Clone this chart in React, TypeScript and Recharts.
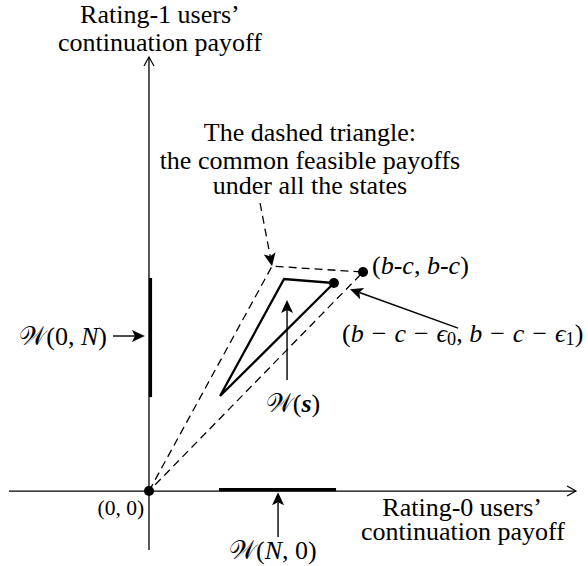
import { ScatterChart, Scatter, XAxis, YAxis } from "recharts";

// payoff units: one unit = (b - c) on both axes
const xDomain = [-0.696, 2.051];
const yDomain = [-0.342, 2.242];

const xAxisLine = [{ x: -0.654, y: 0 }, { x: 1.995, y: 0 }];
const yAxisLine = [{ x: 0, y: -0.269 }, { x: 0, y: 1.982 }];

const dashedTriangle = [{ x: 0, y: 0 }, { x: 0.575, y: 1.027 }, { x: 1, y: 1 }, { x: 0, y: 0 }];
const innerTriangle = [{ x: 0.332, y: 0.434 }, { x: 0.631, y: 0.968 }, { x: 0.864, y: 0.95 }, { x: 0.332, y: 0.434 }];

const segW0N = [{ x: 0.007, y: 0.429 }, { x: 0.007, y: 0.973 }];
const segWN0 = [{ x: 0.327, y: 0.007 }, { x: 0.874, y: 0.007 }];

const arrowW0N = [{ x: -0.168, y: 0.708 }, { x: -0.019, y: 0.708 }];
const arrowWs = [{ x: 0.645, y: 0.507 }, { x: 0.645, y: 0.872 }];
const arrowWN0 = [{ x: 0.603, y: -0.21 }, { x: 0.603, y: -0.005 }];
const arrowEps = [{ x: 1.444, y: 0.744 }, { x: 0.939, y: 0.922 }];
const arrowNote = [{ x: 0.519, y: 1.315 }, { x: 0.575, y: 1.027 }];

const dots = [{ x: 0, y: 0 }, { x: 1, y: 1 }, { x: 0.864, y: 0.95 }];

const labels = [
  { x: 0.051, y: 2.174, text: "Rating-1 users’", anchor: "middle", kind: "text" },
  { x: 0.051, y: 2.046, text: "continuation payoff", anchor: "middle", kind: "text" },
  { x: 0.752, y: 1.635, text: "The dashed triangle:", anchor: "middle", kind: "text" },
  { x: 0.752, y: 1.511, text: "the common feasible payoffs", anchor: "middle", kind: "text" },
  { x: 0.752, y: 1.397, text: "under all the states", anchor: "middle", kind: "text" },
  { x: 1.042, y: 1.032, text: "(b-c, b-c)", anchor: "start", kind: "math" },
  { x: 0.902, y: 0.721, text: "(b − c − ϵ0, b − c − ϵ1)", anchor: "start", kind: "math" },
  { x: 0.673, y: 0.402, text: "𝒲(s)", anchor: "middle", kind: "math" },
  { x: -0.196, y: 0.708, text: "𝒲(0, N)", anchor: "end", kind: "math" },
  { x: 0.579, y: -0.269, text: "𝒲(N, 0)", anchor: "middle", kind: "math" },
  { x: -0.023, y: -0.078, text: "(0, 0)", anchor: "end", kind: "small" },
  { x: 1.463, y: -0.073, text: "Rating-0 users’", anchor: "middle", kind: "text" },
  { x: 1.467, y: -0.183, text: "continuation payoff", anchor: "middle", kind: "text" },
];

const FONT = "Liberation Serif, Tinos, Times New Roman, DejaVu Serif, serif";

type Pt = { x: number; y: number };

const makeLine = (width: number, dash?: string, head?: "filled" | "open") => (props: any) => {
  const pts: Pt[] = (props.points || []).slice();
  if (pts.length < 2) return <g />;
  let headEl = null;
  if (head) {
    const a = pts[pts.length - 2];
    const b = pts[pts.length - 1];
    const ang = Math.atan2(b.y - a.y, b.x - a.x);
    const c = Math.cos(ang), s = Math.sin(ang);
    if (head === "filled") {
      const len = 13, hw = 6;
      const bx = b.x - len * c, by = b.y - len * s;
      const nx = bx + 3 * c, ny = by + 3 * s;
      headEl = (
        <polygon
          points={`${b.x},${b.y} ${bx - s * hw},${by + c * hw} ${nx},${ny} ${bx + s * hw},${by - c * hw}`}
          fill="#000"
        />
      );
      pts[pts.length - 1] = { x: nx, y: ny };
    } else {
      const len = 9, hw = 5;
      const bx = b.x - len * c, by = b.y - len * s;
      headEl = (
        <polyline
          points={`${bx - s * hw},${by + c * hw} ${b.x},${b.y} ${bx + s * hw},${by - c * hw}`}
          fill="none"
          stroke="#000"
          strokeWidth={1.2}
        />
      );
    }
  }
  const d = pts.map((p, i) => `${i ? "L" : "M"}${p.x},${p.y}`).join(" ");
  return (
    <g>
      <path d={d} fill="none" stroke="#000" strokeWidth={width} strokeDasharray={dash} strokeLinejoin="miter" />
      {headEl}
    </g>
  );
};

const noPoint = () => <g />;
const dotShape = (p: any) => <circle cx={p.cx} cy={p.cy} r={5} fill="#000" />;

function mathSpans(text: string) {
  const chars = Array.from(text);
  const out: any[] = [];
  let sub = false;
  let pad = false;
  chars.forEach((ch, i) => {
    const prev = chars[i - 1];
    if (/[0-9]/.test(ch) && prev === "ϵ") {
      out.push(<tspan key={i} fontSize="0.7em" dy={6}>{ch}</tspan>);
      sub = true;
      return;
    }
    const dy = sub ? -6 : undefined;
    sub = false;
    let dx: number | undefined = pad ? 1.5 : undefined;
    pad = false;
    if (ch === "−") {
      dx = 1.5;
      pad = true;
    }
    if (ch === "s") {
      out.push(<tspan key={i} dx={dx} dy={dy} fontStyle="italic" fontWeight="bold">{ch}</tspan>);
    } else if (/[A-Za-zϵ]/.test(ch)) {
      out.push(<tspan key={i} dx={dx} dy={dy} fontStyle="italic">{ch}</tspan>);
    } else {
      out.push(<tspan key={i} dx={dx} dy={dy}>{ch}</tspan>);
    }
  });
  return out;
}

const labelShape = (p: any) => {
  const { cx, cy, payload } = p;
  const size = payload.kind === "small" ? 21.5 : 26;
  return (
    <text
      x={cx}
      y={cy}
      textAnchor={payload.anchor}
      dominantBaseline="central"
      style={{ fontFamily: FONT, fontSize: size }}
      fill="#000"
    >
      {payload.kind === "math" ? mathSpans(payload.text) : payload.text}
    </text>
  );
};

export default function App() {
  return (
    <div style={{ position: "absolute", left: 0, top: 0, background: "#fff" }}>
      <ScatterChart width={588} height={566} margin={{ top: 0, right: 0, bottom: 0, left: 0 }}>
        <XAxis type="number" dataKey="x" domain={xDomain} allowDataOverflow hide />
        <YAxis type="number" dataKey="y" domain={yDomain} allowDataOverflow hide />
        <Scatter data={xAxisLine} line={makeLine(1.3, undefined, "open")} shape={noPoint} isAnimationActive={false} />
        <Scatter data={yAxisLine} line={makeLine(1.3, undefined, "open")} shape={noPoint} isAnimationActive={false} />
        <Scatter data={segW0N} line={makeLine(3.2)} shape={noPoint} isAnimationActive={false} />
        <Scatter data={segWN0} line={makeLine(3.2)} shape={noPoint} isAnimationActive={false} />
        <Scatter data={dashedTriangle} line={makeLine(1.3, "8 5")} shape={noPoint} isAnimationActive={false} />
        <Scatter data={innerTriangle} line={makeLine(2.3)} shape={noPoint} isAnimationActive={false} />
        <Scatter data={arrowNote} line={makeLine(1.3, "8 5", "filled")} shape={noPoint} isAnimationActive={false} />
        <Scatter data={arrowW0N} line={makeLine(1.4, undefined, "filled")} shape={noPoint} isAnimationActive={false} />
        <Scatter data={arrowWs} line={makeLine(1.4, undefined, "filled")} shape={noPoint} isAnimationActive={false} />
        <Scatter data={arrowWN0} line={makeLine(1.4, undefined, "filled")} shape={noPoint} isAnimationActive={false} />
        <Scatter data={arrowEps} line={makeLine(1.4, undefined, "filled")} shape={noPoint} isAnimationActive={false} />
        <Scatter data={dots} shape={dotShape} isAnimationActive={false} />
        <Scatter data={labels} shape={labelShape} isAnimationActive={false} />
      </ScatterChart>
    </div>
  );
}
